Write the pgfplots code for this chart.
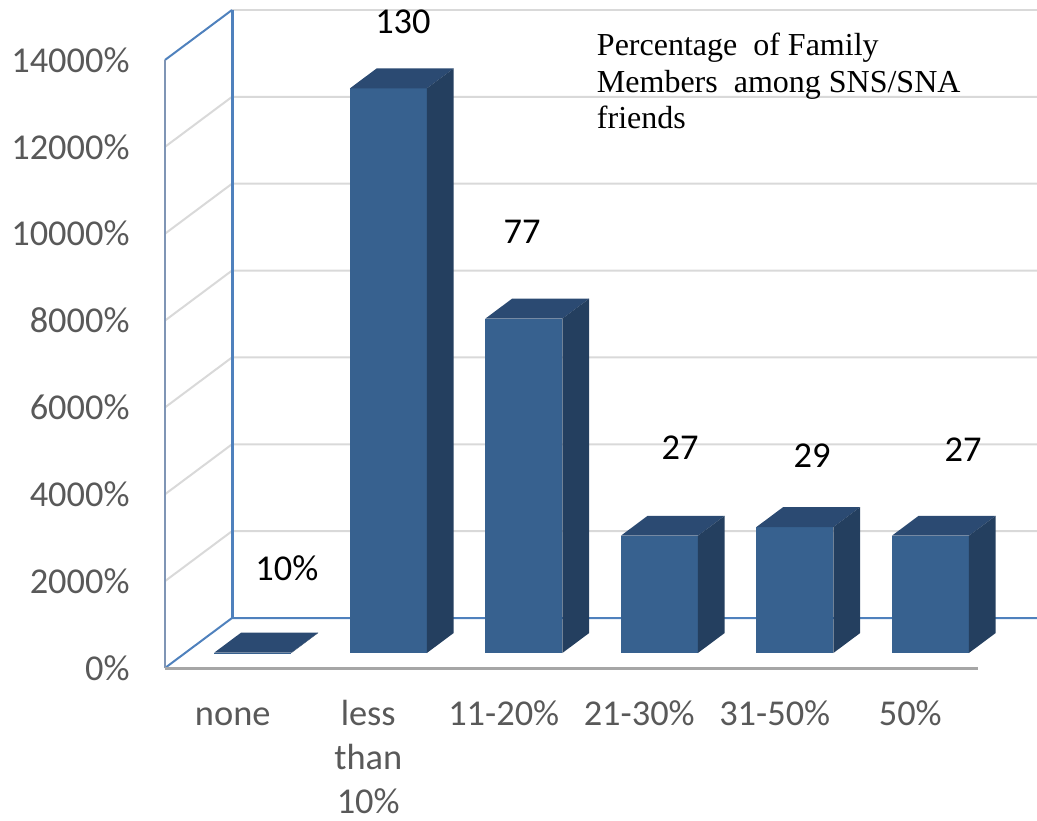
\documentclass[border=0pt]{standalone}
\usepackage{pgfplots}
\pgfplotsset{compat=1.18}
\usepackage{fontspec}
\setmainfont{Carlito}
\newfontfamily\timesfont{Liberation Serif}

\definecolor{barfront}{HTML}{37618F}
\definecolor{bartop}{HTML}{2B4A72}
\definecolor{barside}{HTML}{243F5F}
\definecolor{wallblue}{HTML}{4F81BD}
\definecolor{walledge}{HTML}{7F95B5}
\definecolor{gridgray}{HTML}{D9D9D9}
\definecolor{floorgray}{HTML}{A6A6A6}
\definecolor{ticktext}{HTML}{595959}

% one box-shaped column: #1 = category index, #2 = value
% front face sits 30% into the depth, column is 40% deep
\newcommand\cube[2]{%
  \pgfmathsetmacro\cL{#1+0.5+0.1484-0.2841}%
  \pgfmathsetmacro\cR{#1+0.5+0.1484+0.2841}%
  \pgfmathsetmacro\cLb{\cL+0.1978}%
  \pgfmathsetmacro\cRb{\cR+0.1978}%
  \pgfmathsetmacro\cB{3.453}%
  \pgfmathsetmacro\cBb{\cB+4.604}%
  \pgfmathsetmacro\cT{\cB+#2}%
  \pgfmathsetmacro\cTb{\cT+4.604}%
  \edef\temp{%
    \noexpand\addplot[fill=barfront,draw=none] coordinates {(\cL,\cB) (\cR,\cB) (\cR,\cT) (\cL,\cT)} -- cycle;
    \noexpand\addplot[fill=bartop,draw=none] coordinates {(\cL,\cT) (\cR,\cT) (\cRb,\cTb) (\cLb,\cTb)} -- cycle;
    \noexpand\addplot[fill=barside,draw=none] coordinates {(\cR,\cB) (\cRb,\cBb) (\cRb,\cTb) (\cR,\cT)} -- cycle;
  }%
  \temp
}

\begin{document}
\begin{tikzpicture}
\begin{axis}[
  x=67.75pt, y=2.1715pt,
  xmin=0, xmax=6.5, ymin=0, ymax=152,
  clip=false,
  axis line style={draw=none},
  major tick length=0pt,
  tick style={draw=none},
  ytick={0,20,...,140},
  yticklabels={0\%,2000\%,4000\%,6000\%,8000\%,10000\%,12000\%,14000\%},
  yticklabel style={anchor=east, inner sep=0pt, xshift=-17.5pt,
    font=\fontsize{18.2}{22}\selectfont, text=ticktext},
  xtick={0.5,1.5,...,5.5},
  xticklabels={{\strut none},{\strut less\\than\\10\%},{\strut 11-20\%},
    {\strut 21-30\%},{\strut 31-50\%},{\strut 50\%}},
  xticklabel style={anchor=north, inner sep=0pt, yshift=-13.1pt, align=center,
    font=\fontsize{18.2}{22}\selectfont, text=ticktext},
]
% left wall and back wall gridlines (wall depth: 0.4945 x, 11.51 y)
\pgfplotsinvokeforeach{20,40,60,80,100,120}{
  \draw[gridgray, line width=1pt] (0,#1) -- (0.4945,#1+11.51) -- (6.6,#1+11.51);
}
\draw[gridgray, line width=1pt] (0.4945,151.51) -- (6.6,151.51);
% wall edges
\draw[wallblue, line width=1pt] (0,140) -- (0.4945,151.51);
\draw[wallblue, line width=1pt] (0,0) -- (0.4945,11.51) -- (6.6,11.51);
\draw[wallblue, line width=1.5pt] (0.4945,11.51) -- (0.4945,151.51);
\draw[walledge, line width=1pt] (0,0) -- (0,140);
\draw[floorgray, line width=1.5pt] (0,0) -- (6,0);

% columns
\cube{0}{0.1}
\cube{1}{130}
\cube{2}{77}
\cube{3}{27}
\cube{4}{29}
\cube{5}{27}

% value labels
\begin{scope}[every node/.style={font=\fontsize{18.2}{22}\selectfont, inner sep=0pt}]
\node at (0.900,23.0) {10\%};
\node at (1.756,148.7) {130};
\node at (2.635,100.4) {77};
\node at (3.801,50.7) {27};
\node at (4.775,49.0) {29};
\node at (5.890,50.2) {27};
\end{scope}

% chart title
\node[anchor=north west, inner sep=0pt, align=left,
  font=\timesfont\fontsize{16}{18.3}\selectfont]
  at (3.185,147.0) {\strut Percentage\ \ of Family\\Members\ \ among SNS/SNA\\friends};

\coordinate (bbsw) at (-1.2177,-35.0);
\coordinate (bbne) at (6.4354,153.81);
\end{axis}
\pgfresetboundingbox
\path[use as bounding box] (bbsw) rectangle (bbne);
\end{tikzpicture}
\end{document}
